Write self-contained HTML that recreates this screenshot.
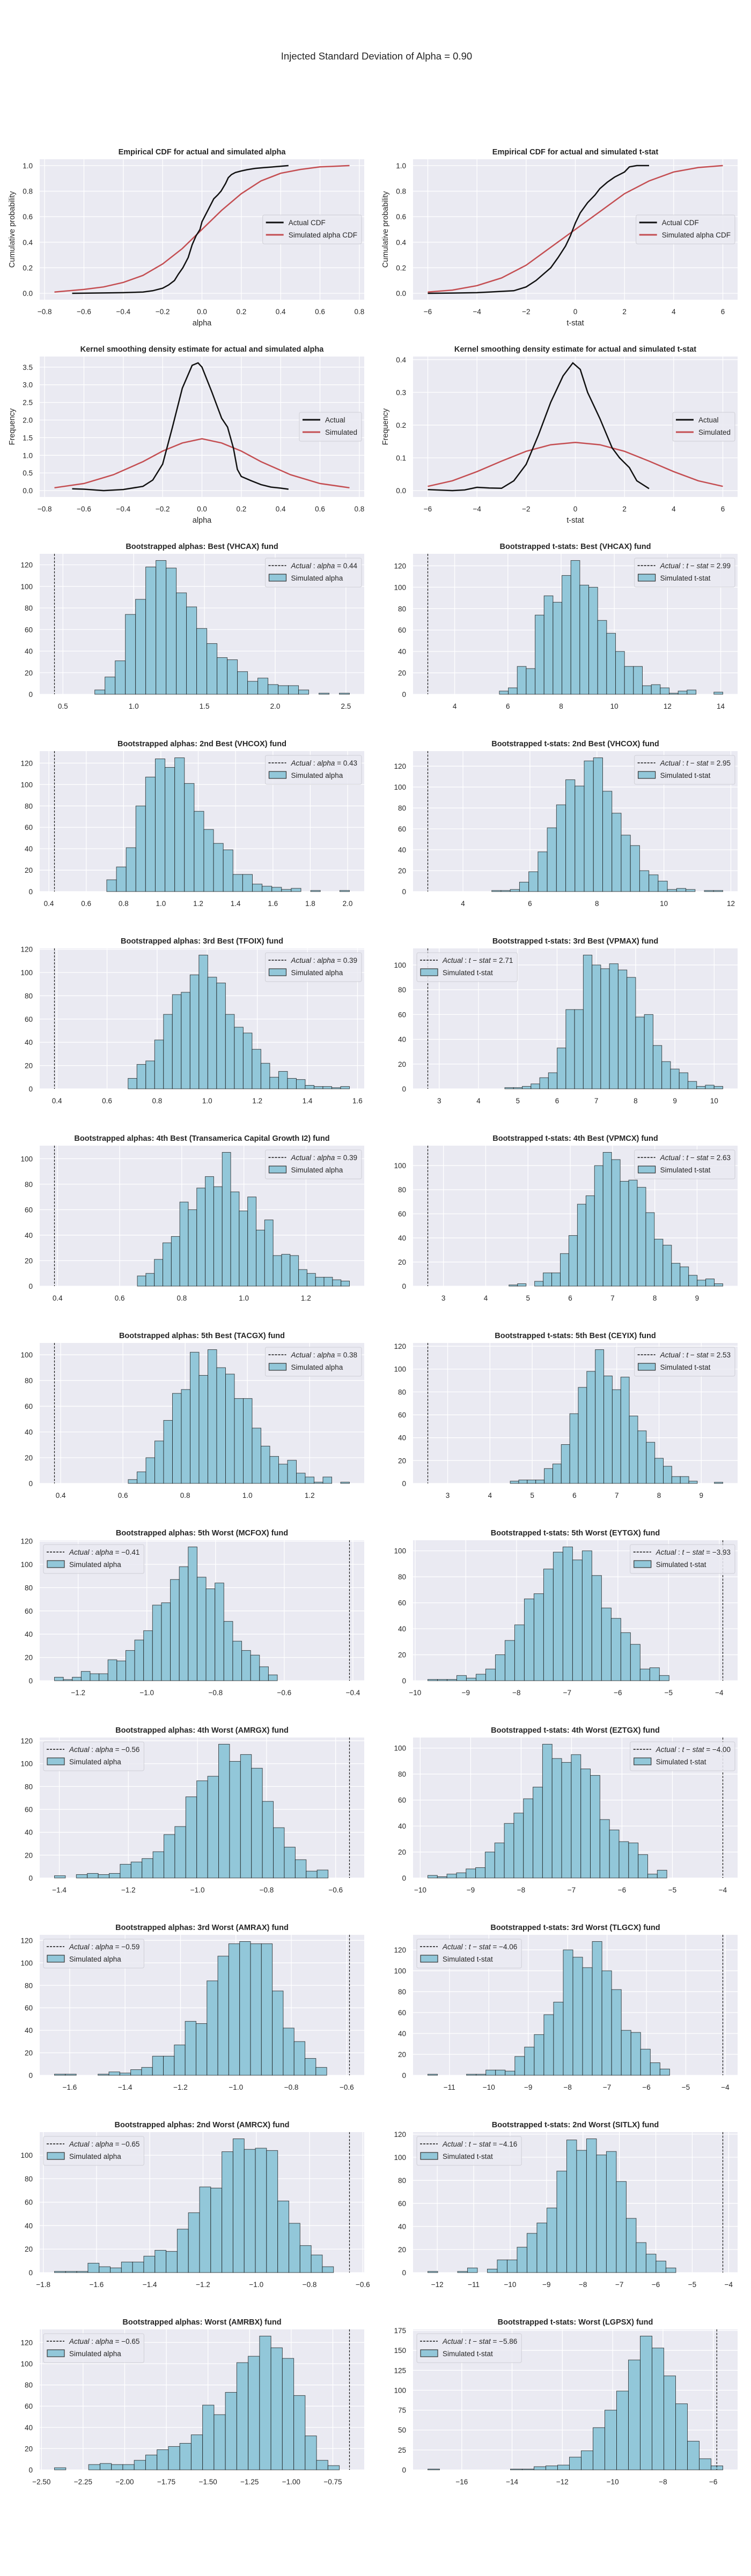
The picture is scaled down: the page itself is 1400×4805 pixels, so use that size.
<!DOCTYPE html>
<html><head><meta charset="utf-8">
<style>
html,body{margin:0;padding:0;background:#fff;}
body{width:1400px;height:4800px;position:relative;overflow:hidden;font-family:"Liberation Sans",Arial,sans-serif;}
svg text{font-family:"Liberation Sans",Arial,sans-serif;fill:#262626;}
</style></head>
<body>
<svg id="fig" width="1400" height="4800" viewBox="0 0 1400 4800" xmlns="http://www.w3.org/2000/svg">
<text x="702" y="111" font-size="18.5" text-anchor="middle">Injected Standard Deviation of Alpha = 0.90</text>
</svg>
<script>
// ---------- CDF / KDE data ----------
const cdfAlphaActualX = [-0.66,-0.5,-0.4,-0.3,-0.25,-0.2,-0.17,-0.14,-0.12,-0.097,-0.07,-0.05,-0.03,-0.01,0,0.02,0.04,0.06,0.08,0.097,0.12,0.134,0.15,0.17,0.2,0.23,0.27,0.32,0.38,0.44];
const cdfAlphaActualY = [0.0,0.003,0.005,0.01,0.02,0.04,0.065,0.1,0.15,0.2,0.28,0.38,0.45,0.5,0.56,0.62,0.68,0.74,0.77,0.8,0.86,0.906,0.93,0.946,0.958,0.968,0.978,0.985,0.992,1.0];
const cdfAlphaSimX = [-0.75,-0.6,-0.5,-0.4,-0.3,-0.2,-0.1,0,0.1,0.2,0.3,0.4,0.5,0.6,0.75];
const cdfAlphaSimY = [0.01,0.03,0.05,0.085,0.14,0.23,0.35,0.5,0.65,0.78,0.88,0.94,0.97,0.99,1.0];
const cdfTActualX = [-6,-5,-4,-3.5,-3,-2.5,-2,-1.6,-1.3,-1,-0.7,-0.4,-0.2,0,0.2,0.5,0.8,1,1.3,1.6,2,2.2,2.5,3];
const cdfTActualY = [0.0,0.002,0.005,0.01,0.015,0.02,0.05,0.1,0.15,0.2,0.28,0.37,0.45,0.55,0.63,0.71,0.77,0.82,0.87,0.91,0.95,0.99,1.0,1.0];
const cdfTSimX = [-6,-5,-4,-3,-2,-1,0,1,2,3,4,5,6];
const cdfTSimY = [0.01,0.025,0.06,0.12,0.22,0.36,0.5,0.64,0.78,0.88,0.95,0.985,1.0];
const kdeAlphaActualX = [-0.66,-0.6,-0.5,-0.4,-0.3,-0.25,-0.2,-0.15,-0.1,-0.05,-0.02,0,0.05,0.1,0.13,0.16,0.18,0.2,0.25,0.3,0.35,0.4,0.44];
const kdeAlphaActualY = [0.05,0.04,0.0,0.03,0.12,0.3,0.75,1.8,2.9,3.55,3.62,3.5,2.8,2.05,1.8,1.2,0.6,0.4,0.28,0.17,0.1,0.07,0.04];
const kdeAlphaSimX = [-0.75,-0.6,-0.45,-0.3,-0.2,-0.1,0,0.1,0.2,0.3,0.45,0.6,0.75];
const kdeAlphaSimY = [0.08,0.2,0.45,0.82,1.12,1.35,1.47,1.35,1.12,0.82,0.45,0.2,0.08];
const kdeTActualX = [-6,-5,-4.5,-4,-3.5,-3,-2.5,-2,-1.5,-1,-0.5,-0.1,0.2,0.5,1,1.5,1.8,2.2,2.5,3];
const kdeTActualY = [0.003,0.0,0.002,0.01,0.008,0.007,0.03,0.08,0.17,0.27,0.35,0.39,0.37,0.3,0.22,0.13,0.1,0.07,0.03,0.006];
const kdeTSimX = [-6,-5,-4,-3,-2,-1,0,1,2,3,4,5,6];
const kdeTSimY = [0.013,0.03,0.058,0.09,0.12,0.14,0.147,0.14,0.12,0.09,0.058,0.03,0.013];
const alphaXTicks = ["−0.8","−0.6","−0.4","−0.2","0.0","0.2","0.4","0.6","0.8"];
const tXTicks = ["−6","−4","−2","0","2","4","6"];
const cdfYTicks = ["0.0","0.2","0.4","0.6","0.8","1.0"];
const kdeAlphaYTicks = ["0.0","0.5","1.0","1.5","2.0","2.5","3.0","3.5"];
const kdeTYTicks = ["0.0","0.1","0.2","0.3","0.4"];

// ---------- Histogram data ----------
const countsBestA = [4,16,31,74,88,118,124,117,94,81,61,47,34,32,21,12,15,9,8,8,4,0,1,0,1];
const rangeBestA = [0.725,2.525];
const xtBestA = ["0.5","1.0","1.5","2.0","2.5"];
const countsBestT = [3,6,26,24,74,92,86,111,125,102,100,69,57,40,26,26,8,9,6,1,3,4,0,0,2];
const rangeBestT = [5.68,14.08];
const xtBestT = ["4","6","8","10","12","14"];
const countsBest2A = [11,23,41,80,107,124,116,125,101,75,58,45,39,16,16,7,5,4,2,3,0,1,0,0,1];
const rangeBest2A = [0.71,2.01];
const xtBest2A = ["0.4","0.6","0.8","1.0","1.2","1.4","1.6","1.8","2.0"];
const countsBest2T = [1,1,2,9,19,38,61,83,107,101,125,128,96,75,54,44,20,16,10,2,3,2,0,1,1];
const rangeBest2T = [4.86,11.76];
const xtBest2T = ["4","6","8","10","12"];
const countsBest3A = [9,21,24,42,64,81,83,98,115,96,91,64,53,48,34,22,10,15,9,8,3,2,2,1,2];
const rangeBest3A = [0.684,1.568];
const xtBest3A = ["0.4","0.6","0.8","1.0","1.2","1.4","1.6"];
const countsBest3T = [1,1,2,4,9,13,33,64,64,108,100,97,101,96,90,58,60,35,22,16,13,6,2,3,2];
const rangeBest3T = [4.67,10.22];
const xtBest3T = ["3","4","5","6","7","8","9","10"];
const countsBest4A = [8,10,21,34,39,66,60,77,86,78,105,74,59,70,44,52,24,25,24,13,10,7,7,5,4];
const rangeBest4A = [0.657,1.34];
const xtBest4A = ["0.4","0.6","0.8","1.0","1.2"];
const countsBest4T = [1,2,0,4,11,11,27,42,68,75,100,111,105,87,88,82,61,39,34,19,16,9,5,6,2];
const rangeBest4T = [4.55,9.61];
const xtBest4T = ["3","4","5","6","7","8","9"];
const countsBest5A = [3,9,20,33,49,70,73,102,84,104,90,85,66,66,43,29,21,15,18,8,5,1,5,0,1];
const rangeBest5A = [0.617,1.328];
const xtBest5A = ["0.4","0.6","0.8","1.0","1.2"];
const countsBest5T = [2,3,3,3,13,17,34,61,84,98,117,94,82,93,59,46,36,22,15,6,6,2,0,0,1];
const rangeBest5T = [4.48,9.51];
const xtBest5T = ["3","4","5","6","7","8","9"];
const countsWorst5A = [3,1,3,8,6,6,18,17,26,35,43,65,67,87,98,115,89,79,84,51,34,26,22,12,5];
const rangeWorst5A = [-1.269,-0.620];
const xtWorst5A = ["−1.2","−1.0","−0.8","−0.6","−0.4"];
const countsWorst5T = [1,1,1,4,2,5,9,20,31,43,63,67,86,99,103,93,100,81,56,48,37,28,9,10,4];
const rangeWorst5T = [-9.75,-4.99];
const xtWorst5T = ["−10","−9","−8","−7","−6","−5","−4"];
const countsWorst4A = [2,0,3,4,3,4,12,14,17,23,38,45,71,85,89,117,102,108,96,67,44,27,16,6,7];
const rangeWorst4A = [-1.414,-0.622];
const xtWorst4A = ["−1.4","−1.2","−1.0","−0.8","−0.6"];
const countsWorst4T = [2,1,3,4,7,8,20,27,42,50,61,70,103,92,89,95,84,79,45,37,28,27,18,3,6];
const rangeWorst4T = [-9.85,-5.11];
const xtWorst4T = ["−10","−9","−8","−7","−6","−5","−4"];
const countsWorst3A = [1,1,0,0,1,3,2,5,7,17,17,27,48,46,84,106,117,119,117,117,75,42,30,15,7];
const rangeWorst3A = [-1.655,-0.672];
const xtWorst3A = ["−1.6","−1.4","−1.2","−1.0","−0.8","−0.6"];
const countsWorst3T = [1,0,0,0,1,1,5,5,4,18,27,39,58,70,120,113,103,128,100,82,43,41,25,12,6];
const rangeWorst3T = [-11.55,-5.41];
const xtWorst3T = ["−11","−10","−9","−8","−7","−6","−5","−4"];
const countsWorst2A = [1,1,1,8,5,4,9,9,14,19,18,37,51,73,72,103,114,105,106,104,61,42,23,15,5];
const rangeWorst2A = [-1.758,-0.71];
const xtWorst2A = ["−1.8","−1.6","−1.4","−1.2","−1.0","−0.8","−0.6"];
const countsWorst2T = [1,0,0,1,4,0,3,11,11,22,34,43,56,88,115,106,116,102,105,79,47,26,16,10,4];
const rangeWorst2T = [-12.26,-5.45];
const xtWorst2T = ["−12","−11","−10","−9","−8","−7","−6","−5","−4"];
const countsWorstA = [2,0,0,5,6,5,5,9,14,19,22,25,33,61,52,73,101,107,126,115,105,70,32,9,4];
const rangeWorstA = [-2.422,-0.711];
const xtWorstA = ["−2.50","−2.25","−2.00","−1.75","−1.50","−1.25","−1.00","−0.75"];
const countsWorstT = [1,0,0,0,0,0,0,1,1,4,5,6,16,24,53,75,99,138,168,153,118,83,36,14,5];
const rangeWorstT = [-17.35,-5.62];
const xtWorstT = ["−16","−14","−12","−10","−8","−6"];
const actualValues = [0.44,2.99,0.43,2.95,0.39,2.71,0.39,2.63,0.38,2.53,-0.41,-3.93,-0.56,-4.00,-0.59,-4.06,-0.65,-4.16,-0.65,-5.86];

const NS = "http://www.w3.org/2000/svg";
const svg = document.getElementById('fig');
const W = 605, H = 262;
const BG = "#EAEAF2";
const num = s => parseFloat(s.replace('−','-'));

function mk(parent, tag, attrs, name) {
  const e = document.createElementNS(NS, tag);
  for (const k in attrs) e.setAttribute(k, attrs[k]);
  
  
  parent.appendChild(e);
  return e;
}

function axesBase(g, x0, y0, xmin, xmax, ymin, ymax, xticks, yticks, title) {
  const sx = v => x0 + (v - xmin) / (xmax - xmin) * W;
  const sy = v => y0 + H - (v - ymin) / (ymax - ymin) * H;
  mk(g, 'rect', {x: x0, y: y0, width: W, height: H, fill: BG}, 'plot-area');
  xticks.forEach(lbl => {
    const v = num(lbl); const px = sx(v);
    if (px < x0 - 0.5 || px > x0 + W + 0.5) return;
    mk(g, 'line', {x1: px, x2: px, y1: y0, y2: y0 + H, stroke: '#fff', 'stroke-width': 1.3}, 'x-gridline');
    const t = mk(g, 'text', {x: px, y: y0 + H + 27, 'font-size': 13.5, 'text-anchor': 'middle'}, 'x-tick-label');
    t.textContent = lbl;
  });
  yticks.forEach(lbl => {
    const v = num(lbl); const py = sy(v);
    if (py < y0 - 0.5 || py > y0 + H + 0.5) return;
    mk(g, 'line', {x1: x0, x2: x0 + W, y1: py, y2: py, stroke: '#fff', 'stroke-width': 1.3}, 'y-gridline');
    const t = mk(g, 'text', {x: x0 - 13, y: py + 5, 'font-size': 13.5, 'text-anchor': 'end'}, 'y-tick-label');
    t.textContent = lbl;
  });
  const tt = mk(g, 'text', {x: x0 + W / 2, y: y0 - 9, 'font-size': 14.5, 'font-weight': 'bold', 'text-anchor': 'middle'}, 'chart-title');
  tt.textContent = title;
  return {sx, sy};
}

function legend(g, x0, y0, loc, entries) {
  const lg = mk(g, 'g', {}, 'legend');
  const box = mk(lg, 'rect', {x: 0, y: 0, width: 10, height: 10, rx: 3, fill: 'rgba(234,234,242,0.85)', stroke: '#cfcfd6', 'stroke-width': 1}, 'legend-box');
  let maxw = 0;
  const texts = [];
  entries.forEach((en, i) => {
    const cy = 14 + i * 23;
    if (en.type === 'dash') {
      mk(lg, 'line', {x1: 6, x2: 39, y1: cy, y2: cy, stroke: '#111', 'stroke-width': 1.5, 'stroke-dasharray': '4,2'}, 'legend-dashed-line');
    } else if (en.type === 'patch') {
      mk(lg, 'rect', {x: 7, y: cy - 7, width: 32, height: 13, fill: '#92C7D9', stroke: '#333', 'stroke-width': 1.2}, 'legend-patch');
    } else {
      mk(lg, 'line', {x1: 6, x2: 39, y1: cy, y2: cy, stroke: en.color, 'stroke-width': 3}, 'legend-line');
    }
    const t = mk(lg, 'text', {x: 48, y: cy + 5, 'font-size': 13.5}, 'legend-label');
    en.parts.forEach(p => {
      const ts = document.createElementNS(NS, 'tspan');
      if (p[1]) ts.setAttribute('font-style', 'italic');
      ts.textContent = p[0];
      t.appendChild(ts);
    });
    texts.push(t);
    maxw = Math.max(maxw, t.getComputedTextLength());
  });
  const bw = 48 + maxw + 8, bh = 8 + entries.length * 23;
  box.setAttribute('width', bw); box.setAttribute('height', bh);
  let lx, ly;
  if (loc === 'ur') { lx = x0 + W - 5 - bw; ly = y0 + 8; }
  else if (loc === 'ul') { lx = x0 + 7; ly = y0 + 8; }
  else { lx = x0 + W - 5 - bw; ly = y0 + H / 2 - bh / 2; }
  lg.setAttribute('transform', `translate(${lx},${ly})`);
}

function pathFrom(xs, ys, sx, sy) {
  return xs.map((x, i) => (i ? 'L' : 'M') + sx(x).toFixed(1) + ',' + sy(ys[i]).toFixed(1)).join(' ');
}

function drawLines(row, col, title, actX, actY, simX, simY, xticks, yticks, xlabel, ylabel, legendNames) {
  const x0 = col ? 770 : 74, y0 = 297 + 368 * row;
  const g = mk(svg, 'g', {}, title.toLowerCase().replace(/[^a-z]+/g, '-').slice(0, 40));
  const allX = actX.concat(simX), allY = actY.concat(simY);
  let xmin = Math.min(...allX), xmax = Math.max(...allX), ymin = Math.min(0, ...allY), ymax = Math.max(...allY);
  const px = (xmax - xmin) * 0.05, py = (ymax - ymin) * 0.05;
  xmin -= px; xmax += px; ymin -= py; ymax += py;
  const {sx, sy} = axesBase(g, x0, y0, xmin, xmax, ymin, ymax, xticks, yticks, title);
  mk(g, 'path', {d: pathFrom(simX, simY, sx, sy), fill: 'none', stroke: '#C44E52', 'stroke-width': 2.5}, 'simulated-line');
  mk(g, 'path', {d: pathFrom(actX, actY, sx, sy), fill: 'none', stroke: '#111', 'stroke-width': 2.5}, 'actual-line');
  if (xlabel) {
    const t = mk(g, 'text', {x: x0 + W / 2, y: y0 + H + 48, 'font-size': 14.5, 'text-anchor': 'middle'}, 'x-axis-title');
    t.textContent = xlabel;
  }
  const yl = mk(g, 'text', {x: 0, y: 0, 'font-size': 14.5, 'text-anchor': 'middle', transform: `translate(${x0 - 47},${y0 + H / 2}) rotate(-90)`}, 'y-axis-title');
  yl.textContent = ylabel;
  legend(g, x0, y0, 'cr', [{type: 'line', color: '#111', parts: [[legendNames[0], false]]}, {type: 'line', color: '#C44E52', parts: [[legendNames[1], false]]}]);
}

function drawHist(row, col, title, counts, range, actual, xticks, loc, kind) {
  const x0 = col ? 770 : 74, y0 = 297 + 368 * row;
  const g = mk(svg, 'g', {}, 'histogram-panel');
  const lo = range[0], hi = range[1];
  const dmin = Math.min(lo, actual), dmax = Math.max(hi, actual), pad = (dmax - dmin) * 0.05;
  const cmax = Math.max(...counts), ymax = cmax * 1.05;
  const step = ymax > 150 ? 25 : 20;
  const yticks = [];
  for (let v = 0; v <= ymax; v += step) yticks.push(String(v));
  const {sx, sy} = axesBase(g, x0, y0, dmin - pad, dmax + pad, 0, ymax, xticks, yticks, title);
  const n = counts.length, bw = (hi - lo) / n;
  counts.forEach((c, i) => {
    const a = sx(lo + i * bw), b = sx(lo + (i + 1) * bw);
    mk(g, 'rect', {x: a, y: sy(c), width: b - a, height: sy(0) - sy(c), fill: '#92C7D9', stroke: 'rgba(20,20,20,0.75)', 'stroke-width': 1}, 'bar');
  });
  const ax = sx(actual);
  mk(g, 'line', {x1: ax, x2: ax, y1: y0, y2: y0 + H, stroke: '#111', 'stroke-width': 1.2, 'stroke-dasharray': '4,2.5'}, 'actual-value-line');
  const valStr = (actual < 0 ? '−' : '') + Math.abs(actual).toFixed(2);
  const lab = kind === 'a'
    ? [['Actual', true], [' : ', false], ['alpha', true], [' = ' + valStr, false]]
    : [['Actual', true], [' : ', false], ['t', true], [' − ', false], ['stat', true], [' = ' + valStr, false]];
  legend(g, x0, y0, loc, [{type: 'dash', parts: lab}, {type: 'patch', parts: [[kind === 'a' ? 'Simulated alpha' : 'Simulated t-stat', false]]}]);
}

drawLines(0, 0, 'Empirical CDF for actual and simulated alpha', cdfAlphaActualX, cdfAlphaActualY, cdfAlphaSimX, cdfAlphaSimY, alphaXTicks, cdfYTicks, 'alpha', 'Cumulative probability', ['Actual CDF', 'Simulated alpha CDF']);
drawLines(0, 1, 'Empirical CDF for actual and simulated t-stat', cdfTActualX, cdfTActualY, cdfTSimX, cdfTSimY, tXTicks, cdfYTicks, 't-stat', 'Cumulative probability', ['Actual CDF', 'Simulated alpha CDF']);
drawLines(1, 0, 'Kernel smoothing density estimate for actual and simulated alpha', kdeAlphaActualX, kdeAlphaActualY, kdeAlphaSimX, kdeAlphaSimY, alphaXTicks, kdeAlphaYTicks, 'alpha', 'Frequency', ['Actual', 'Simulated']);
drawLines(1, 1, 'Kernel smoothing density estimate for actual and simulated t-stat', kdeTActualX, kdeTActualY, kdeTSimX, kdeTSimY, tXTicks, kdeTYTicks, 't-stat', 'Frequency', ['Actual', 'Simulated']);

drawHist(2, 0, 'Bootstrapped alphas: Best (VHCAX) fund', countsBestA, rangeBestA, actualValues[0], xtBestA, 'ur', 'a');
drawHist(2, 1, 'Bootstrapped t-stats: Best (VHCAX) fund', countsBestT, rangeBestT, actualValues[1], xtBestT, 'ur', 't');
drawHist(3, 0, 'Bootstrapped alphas: 2nd Best (VHCOX) fund', countsBest2A, rangeBest2A, actualValues[2], xtBest2A, 'ur', 'a');
drawHist(3, 1, 'Bootstrapped t-stats: 2nd Best (VHCOX) fund', countsBest2T, rangeBest2T, actualValues[3], xtBest2T, 'ur', 't');
drawHist(4, 0, 'Bootstrapped alphas: 3rd Best (TFOIX) fund', countsBest3A, rangeBest3A, actualValues[4], xtBest3A, 'ur', 'a');
drawHist(4, 1, 'Bootstrapped t-stats: 3rd Best (VPMAX) fund', countsBest3T, rangeBest3T, actualValues[5], xtBest3T, 'ul', 't');
drawHist(5, 0, 'Bootstrapped alphas: 4th Best (Transamerica Capital Growth I2) fund', countsBest4A, rangeBest4A, actualValues[6], xtBest4A, 'ur', 'a');
drawHist(5, 1, 'Bootstrapped t-stats: 4th Best (VPMCX) fund', countsBest4T, rangeBest4T, actualValues[7], xtBest4T, 'ur', 't');
drawHist(6, 0, 'Bootstrapped alphas: 5th Best (TACGX) fund', countsBest5A, rangeBest5A, actualValues[8], xtBest5A, 'ur', 'a');
drawHist(6, 1, 'Bootstrapped t-stats: 5th Best (CEYIX) fund', countsBest5T, rangeBest5T, actualValues[9], xtBest5T, 'ur', 't');
drawHist(7, 0, 'Bootstrapped alphas: 5th Worst (MCFOX) fund', countsWorst5A, rangeWorst5A, actualValues[10], xtWorst5A, 'ul', 'a');
drawHist(7, 1, 'Bootstrapped t-stats: 5th Worst (EYTGX) fund', countsWorst5T, rangeWorst5T, actualValues[11], xtWorst5T, 'ur', 't');
drawHist(8, 0, 'Bootstrapped alphas: 4th Worst (AMRGX) fund', countsWorst4A, rangeWorst4A, actualValues[12], xtWorst4A, 'ul', 'a');
drawHist(8, 1, 'Bootstrapped t-stats: 4th Worst (EZTGX) fund', countsWorst4T, rangeWorst4T, actualValues[13], xtWorst4T, 'ur', 't');
drawHist(9, 0, 'Bootstrapped alphas: 3rd Worst (AMRAX) fund', countsWorst3A, rangeWorst3A, actualValues[14], xtWorst3A, 'ul', 'a');
drawHist(9, 1, 'Bootstrapped t-stats: 3rd Worst (TLGCX) fund', countsWorst3T, rangeWorst3T, actualValues[15], xtWorst3T, 'ul', 't');
drawHist(10, 0, 'Bootstrapped alphas: 2nd Worst (AMRCX) fund', countsWorst2A, rangeWorst2A, actualValues[16], xtWorst2A, 'ul', 'a');
drawHist(10, 1, 'Bootstrapped t-stats: 2nd Worst (SITLX) fund', countsWorst2T, rangeWorst2T, actualValues[17], xtWorst2T, 'ul', 't');
drawHist(11, 0, 'Bootstrapped alphas: Worst (AMRBX) fund', countsWorstA, rangeWorstA, actualValues[18], xtWorstA, 'ul', 'a');
drawHist(11, 1, 'Bootstrapped t-stats: Worst (LGPSX) fund', countsWorstT, rangeWorstT, actualValues[19], xtWorstT, 'ul', 't');
</script>
</body></html>
